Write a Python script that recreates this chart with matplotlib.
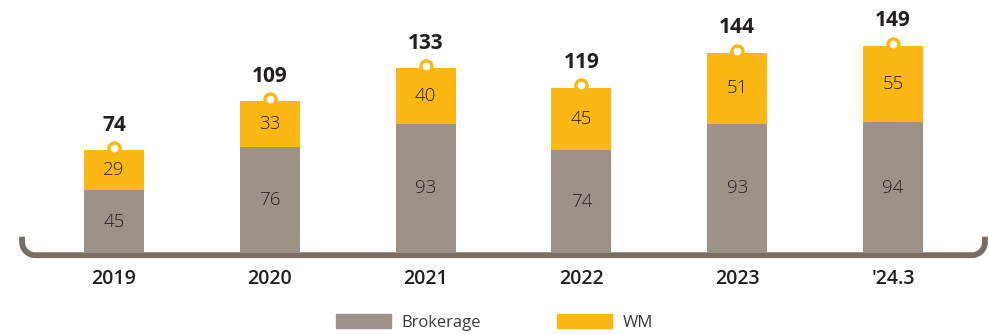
import numpy as np
import matplotlib.pyplot as plt
from matplotlib.path import Path
from matplotlib.patches import PathPatch, Patch

plt.rcParams['font.family'] = ['Open Sans', 'DejaVu Sans']

# Revenue split per year
years = ["2019", "2020", "2021", "2022", "2023", "'24.3"]
brokerage = [45, 76, 93, 74, 93, 94]
wm = [29, 33, 40, 45, 51, 55]
totals = [74, 109, 133, 119, 144, 149]

c_brk = "#9d9288"
c_wm = "#fbb815"
c_axis = "#7a6d63"
c_txt = "#231f20"

fig = plt.figure(figsize=(9.89, 3.34), dpi=100)
ax = fig.add_axes([0, 0, 1, 1])
ax.set_xlim(-0.732, 5.616)
ax.set_ylim(-58.3, 182)
ax.axis("off")

x = np.arange(len(years))
w = 0.385
ax.bar(x, brokerage, w, color=c_brk, zorder=2)
ax.bar(x, wm, w, bottom=brokerage, color=c_wm, zorder=2)

for i in range(len(years)):
    ax.text(x[i], brokerage[i] / 2, str(brokerage[i]), ha="center", va="center",
            fontsize=13.5, color=c_txt, fontweight="light")
    ax.text(x[i], brokerage[i] + wm[i] / 2, str(wm[i]), ha="center", va="center",
            fontsize=13.5, color=c_txt, fontweight="light")
    ax.annotate(str(totals[i]), (x[i], totals[i]), xytext=(0, 18), textcoords="offset points",
                ha="center", va="center", fontsize=15, fontweight="bold", color=c_txt)
    ax.annotate(years[i], (x[i], 0), xytext=(0, -19), textcoords="offset points",
                ha="center", va="center", fontsize=14, fontweight="semibold", color=c_txt)

# little ring hanging on top of each bar
ax.plot(x, np.array(totals) + 1.5, "o", ms=8, mfc="white", mec=c_wm, mew=2.4, zorder=3)

# bracket-shaped baseline with rounded ends
px_x = 155.8
px_y = 1.39
rx, ry = 13 / px_x, 13 / px_y
y0 = -1.6
x_l, x_r = -0.59, 5.59
y_top = y0 + 18.5 / px_y
k = 0.55
verts = [(x_l, y_top), (x_l, y0 + ry),
         (x_l, y0 + ry * (1 - k)), (x_l + rx * (1 - k), y0), (x_l + rx, y0),
         (x_r - rx, y0),
         (x_r - rx * (1 - k), y0), (x_r, y0 + ry * (1 - k)), (x_r, y0 + ry),
         (x_r, y_top)]
codes = [Path.MOVETO, Path.LINETO, Path.CURVE4, Path.CURVE4, Path.CURVE4,
         Path.LINETO, Path.CURVE4, Path.CURVE4, Path.CURVE4, Path.LINETO]
ax.add_patch(PathPatch(Path(verts, codes), fill=False, ec=c_axis, lw=4.2,
                       capstyle="butt", zorder=1))

handles = [Patch(color=c_brk, label="Brokerage"), Patch(color=c_wm, label="WM")]
fig.legend(handles=handles, loc="center", bbox_to_anchor=(0.5, 0.035), ncol=2,
           frameon=False, fontsize=12, handlelength=3.3, handleheight=0.9,
           handletextpad=0.6, columnspacing=4.6, labelcolor="#3a3a3a")

fig.savefig("out.png", dpi=100)
